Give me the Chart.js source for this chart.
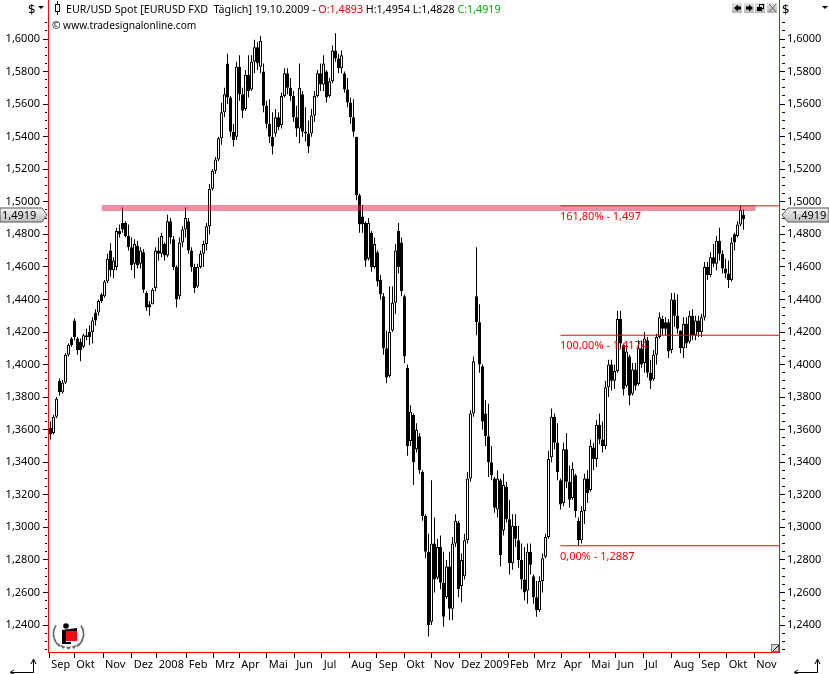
<!DOCTYPE html>
<html><head><meta charset="utf-8">
<script src="https://cdn.jsdelivr.net/npm/chart.js@4/dist/chart.umd.js"></script>
<style>html,body{margin:0;padding:0;background:#fff}canvas{display:block}</style>
</head><body><canvas id="c" width="829" height="674"></canvas>
<script>
const monthLabels = ['Sep','Okt','Nov','Dez','2008','Feb','Mrz','Apr','Mai','Jun','Jul','Aug','Sep','Okt','Nov','Dez','2009','Feb','Mrz','Apr','Mai','Jun','Jul','Aug','Sep','Okt','Nov'];
const monthStarts = [1,21,44,67,87,111,132,153,175,197,219,241,263,285,307,329,347,368,389,411,433,454,476,499,521,543,565];

const lows = [
13540,13570,13670,13810,13820,13880,14050,14110,14150,14060,
14020,14100,14150,14120,14130,14240,14300,14380,14410,14500,
14540,14530,14580,14780,14810,14780,14700,14580,14530,14590,
14590,14440,14330,14300,14370,14450,14640,14660,14640,14660,
14740,14580,14350,14400,14720,14780,14680,14570,14440,14470,
14590,14600,14700,14800,15070,15170,15250,15350,15520,15600,
15400,15340,15380,15620,15515,15560,15640,15680,15790,15810,
15790,15550,15450,15360,15290,15400,15440,15450,15640,15660,
15620,15490,15400,15360,15400,15370,15300,15400,15490,15640,
15680,15680,15610,15640,15730,15860,15790,15790,15670,15580,
15480,15400,15010,14810,14810,14600,14640,14570,14590,14480,
14400,14060,13885,13920,14200,14310,14560,14420,14010,13440,
13500,13260,13460,13330,13040,12810,12330,12400,12600,12680,
12620,12390,12560,12430,12430,12880,12570,12540,12680,12900,
13280,13680,14180,13950,13600,13500,13310,13290,13090,13060,
12760,12950,13030,12710,12740,12880,12750,12620,12550,12530,
12710,12530,12450,12480,12600,12810,12930,13400,13480,13290,
13110,13130,13240,13120,13170,13060,12887,12900,13020,13150,
13220,13350,13370,13510,13460,13480,13800,13840,13850,13950,
14100,13810,13860,13750,13810,13840,13870,13980,13950,13920,
13850,13900,14000,14160,14180,14180,14040,14070,14230,14190,
14070,14040,14100,14130,14150,14150,14170,14170,14270,14520,
14540,14600,14580,14640,14560,14530,14470,14510,14700,14780,
14850,14828];
const highs = [
13650,13690,13800,13915,13905,14070,14130,14170,14285,14170,
14160,14190,14220,14240,14290,14340,14400,14440,14520,14680,
14745,14660,14840,14860,14965,14880,14860,14780,14770,14760,
14720,14710,14450,14390,14470,14720,14780,14810,14750,14920,
14900,14790,14610,14780,14850,14965,14900,14720,14620,14620,
14700,14760,14870,15110,15200,15275,15400,15610,15700,15910,
15650,15480,15860,15900,15700,15810,15900,15900,15995,15980,
16020,15850,15620,15630,15550,15570,15550,15670,15820,15820,
15760,15680,15590,15850,15680,15580,15500,15570,15680,15810,
15850,15900,15810,15760,15960,16035,15910,15930,15800,15760,
15640,15630,15400,15050,14980,14880,14900,14820,14780,14700,
14550,14440,14210,14480,14480,14740,14870,14780,14430,14000,
13750,13700,13640,13580,13350,13080,12960,13290,13060,12930,
12950,12850,12800,12850,12940,13080,13040,12840,12960,13340,
13720,14050,14720,14370,14000,13780,13760,13500,13310,13350,
13300,13330,13280,13170,13080,13080,13010,12900,12880,12900,
12900,12710,12670,12700,12840,12960,13470,13730,13700,13640,
13300,13520,13580,13380,13400,13330,13060,13130,13330,13350,
13540,13520,13660,13700,13650,13900,14030,14030,14000,14330,
14330,14130,14120,14060,14010,14010,14150,14150,14200,14170,
14030,14090,14190,14320,14300,14290,14280,14440,14440,14430,
14210,14290,14290,14330,14340,14300,14300,14310,14630,14630,
14690,14740,14790,14840,14700,14650,14640,14780,14810,14880,
14975,14954];
const opens = [
13610,13580,13680,13900,13830,13890,14060,14120,14270,14160,
14090,14110,14180,14170,14200,14270,14320,14390,14420,14510,
14700,14580,14600,14820,14830,14870,14790,14720,14620,14730,
14620,14690,14440,14350,14370,14470,14700,14680,14740,14670,
14880,14770,14600,14420,14750,14830,14880,14700,14600,14480,
14600,14680,14740,14850,15080,15190,15260,15390,15550,15850,
15640,15430,15400,15830,15660,15570,15780,15690,15860,15950,
15830,15800,15590,15480,15400,15420,15520,15470,15650,15790,
15700,15650,15520,15450,15660,15430,15420,15420,15530,15650,
15790,15720,15800,15650,15740,15930,15880,15820,15790,15690,
15610,15520,15400,15040,14860,14870,14650,14810,14600,14690,
14520,14420,14100,13930,14210,14380,14820,14750,14420,13980,
13530,13690,13480,13560,13340,13070,12850,12420,12900,12690,
12880,12660,12570,12760,12500,12900,13030,12640,12700,12920,
13300,13700,14420,14260,13990,13700,13560,13400,13300,13110,
13290,12980,13250,13050,12780,13010,12920,12800,12680,12610,
12850,12700,12570,12490,12670,12820,12940,13430,13680,13520,
13290,13150,13480,13280,13180,13320,13040,12920,13100,13300,
13230,13490,13420,13630,13540,13500,13860,14000,13900,13960,
14280,14120,13870,14050,13820,13970,13880,14100,14010,14150,
13950,13910,14060,14170,14280,14220,14260,14090,14400,14300,
14210,14100,14250,14140,14300,14180,14270,14200,14290,14600,
14550,14660,14620,14760,14680,14590,14560,14520,14750,14790,
14860,14893];
const closes = [
13570,13680,13790,13830,13890,14060,14120,14160,14170,14090,
14140,14180,14170,14200,14270,14320,14390,14430,14510,14650,
14580,14640,14820,14800,14870,14790,14720,14610,14740,14610,
14700,14460,14350,14370,14460,14700,14680,14790,14670,14880,
14780,14600,14400,14750,14830,14900,14700,14600,14470,14600,
14680,14740,14850,15080,15190,15260,15390,15550,15660,15640,
15430,15380,15830,15660,15560,15780,15680,15860,15950,15850,
15990,15590,15480,15400,15340,15520,15460,15650,15790,15700,
15650,15520,15450,15700,15430,15420,15340,15530,15650,15790,
15720,15850,15640,15740,15930,15880,15820,15900,15690,15610,
15520,15430,15040,14860,14910,14640,14870,14600,14740,14510,
14430,14100,13920,14200,14380,14700,14600,14450,14050,13500,
13710,13400,13600,13350,13070,12850,12400,12900,12680,12880,
12660,12450,12760,12500,12900,13040,12620,12800,12920,13300,
13700,14020,14260,14000,13650,13560,13400,13320,13120,13300,
12830,13260,13050,12780,13010,12930,12800,12680,12600,12850,
12770,12570,12490,12670,12810,12940,13420,13680,13520,13340,
13140,13480,13280,13170,13360,13100,12920,13100,13300,13210,
13500,13420,13630,13540,13500,13860,14000,13900,13960,14280,
14130,13850,14080,13810,13970,13870,14100,14000,14160,13950,
13900,14060,14170,14290,14220,14260,14080,14400,14300,14220,
14100,14250,14130,14300,14180,14270,14200,14290,14600,14550,
14660,14620,14760,14680,14590,14560,14520,14750,14800,14860,
14950,14919];

const fibPercents = ['161,80%','100,00%','0,00%'];
const fibTexts = ['1,497','1,4174','1,2887'];
const fibLevels = [1.4975,1.4180,1.2887];
const supportLevel = 1.4962;
const lastClose = '1,4919';
const yMajorTicks = [1.24,1.26,1.28,1.30,1.32,1.34,1.36,1.38,1.40,1.42,1.44,1.46,1.48,1.50,1.52,1.54,1.56,1.58,1.60];

const FONT = '10.7px "Noto Sans"';
const sess = i => 2 + 2.4 * i;
const px = v => v / 10000;
const yTicks = [];
for (let k = 245; k <= 322; k++) yTicks.push(k / 200);
const isMajor = v => yMajorTicks.some(m => Math.abs(m - v) < 1e-6);
const fmtY = v => isMajor(v) ? v.toFixed(4).replace('.', ',') : '';
const noPad = s => { s.paddingLeft = s.paddingRight = s.paddingTop = s.paddingBottom = 0; };

const wickData = lows.map((l, i) => ({x: sess(i), y: [px(l), px(highs[i])]}));
const bodyData = opens.map((o, i) => ({x: sess(i), y: [px(o), px(closes[i])]}));
// Short up-candles merge into solid black in the dense original; only long ones stay visibly hollow.
const bodyFill = opens.map((o, i) => closes[i] - o >= 60 ? '#ffffff' : '#000000');

const overlay = {
  id: 'overlay',
  afterDraw(chart) {
    const c = chart.ctx, y = chart.scales.y;
    c.save();
    c.font = FONT; c.textBaseline = 'alphabetic'; c.textAlign = 'left';
    // header legend
    c.strokeStyle = '#000'; c.lineWidth = 1;
    c.strokeRect(55.5, 4.5, 4, 7);
    c.beginPath(); c.moveTo(57.5, 1); c.lineTo(57.5, 4); c.moveTo(57.5, 12); c.lineTo(57.5, 15); c.stroke();
    let tx = 66;
    [['EUR/USD Spot [EURUSD FXD  Täglich] 19.10.2009 - ', '#000'], ['O:1,4893', '#e00000'], [' H:1,4954 L:1,4828 ', '#000'], ['C:1,4919', '#00b000']].forEach(([t, col]) => {
      c.fillStyle = col; c.fillText(t, tx, 13); tx += c.measureText(t).width;
    });
    c.fillStyle = '#000';
    c.font = '10.2px "Noto Sans"';
    c.fillText('© www.tradesignalonline.com', 52, 29);
    // currency selectors
    c.font = '13px "Noto Sans"';
    c.fillText('$', 28, 14); c.fillText('$', 782, 14);
    c.font = FONT;
    [[38, 44], [822, 828]].forEach(([a, b]) => {
      c.beginPath(); c.moveTo(a, 6); c.lineTo(b, 6); c.lineTo((a + b) / 2, 9); c.closePath(); c.fill();
    });
    // window buttons
    [732, 744, 755, 767].forEach((bx, i) => {
      const g = c.createLinearGradient(0, 3, 0, 13);
      g.addColorStop(0, '#e4e4e4'); g.addColorStop(1, '#b4b4b4');
      c.fillStyle = g; c.fillRect(bx, 3, 10, 10);
      c.fillStyle = '#000'; c.strokeStyle = i === 3 ? '#666' : '#000';
      c.beginPath();
      if (i === 0) { c.moveTo(734, 8); c.lineTo(738, 4.5); c.lineTo(738, 6.5); c.lineTo(741, 6.5); c.lineTo(741, 9.5); c.lineTo(738, 9.5); c.lineTo(738, 11.5); c.closePath(); c.fill(); }
      if (i === 1) { c.moveTo(753, 8); c.lineTo(749, 4.5); c.lineTo(749, 6.5); c.lineTo(746, 6.5); c.lineTo(746, 9.5); c.lineTo(749, 9.5); c.lineTo(749, 11.5); c.closePath(); c.fill(); }
      if (i === 2) { c.strokeRect(759.5, 4.5, 4, 4); c.fillRect(757, 7, 5, 4); }
      if (i === 3) { c.moveTo(769, 4); c.lineTo(776, 12); c.moveTo(776, 4); c.lineTo(769, 12); c.stroke(); }
    });
    // fibonacci labels
    c.fillStyle = '#ff0000';
    c.font = '11px "Noto Sans"';
    fibLevels.forEach((lv, i) => {
      c.fillText(fibPercents[i] + ' - ' + fibTexts[i], 560, y.getPixelForValue(lv) + 14);
    });
    // last price badges
    const by = 215;
    const badge = (pts, tx2) => {
      const g = c.createLinearGradient(0, by - 7, 0, by + 7);
      g.addColorStop(0, '#f4f4f4'); g.addColorStop(1, '#bdbdbd');
      c.beginPath(); pts.forEach((p, i) => i ? c.lineTo(p[0], p[1]) : c.moveTo(p[0], p[1])); c.closePath();
      c.fillStyle = g; c.fill(); c.strokeStyle = '#555'; c.stroke();
      c.fillStyle = '#000'; c.fillText(lastClose, tx2, by + 4);
    };
    badge([[0, by - 7], [42, by - 7], [47, by], [42, by + 7], [0, by + 7]], 2);
    badge([[829, by - 7], [788, by - 7], [782, by], [788, by + 7], [829, by + 7]], 792);
    // corner arrows
    c.strokeStyle = '#000'; c.fillStyle = '#000';
    [[10, 33], [794, 817]].forEach(([a, b]) => {
      c.beginPath(); c.moveTo(a, 672.5); c.lineTo(b + .5, 672.5); c.lineTo(b + .5, 660); c.stroke();
      c.beginPath(); c.moveTo(b - 2, 664); c.lineTo(b + .5, 659); c.lineTo(b + 3, 664); c.stroke();
      c.beginPath(); c.moveTo(a + 4, 670); c.lineTo(a, 672.5); c.lineTo(a + 4, 674); c.stroke();
    });
    // resize grip
    c.fillStyle = '#d8d8d8'; c.fillRect(772, 645, 7, 7);
    c.strokeStyle = '#777'; c.strokeRect(771.5, 644.5, 7, 7);
    c.strokeStyle = '#000'; c.beginPath(); c.moveTo(773, 651); c.lineTo(779, 645); c.stroke();
    // logo
    c.strokeStyle = '#666'; c.lineWidth = 1.6;
    [-1, 1].forEach(s => {
      for (let a = 0; a < 7; a++) {
        const t = (25 + a * 21) * Math.PI / 180;
        const lx = 68.5 + s * 15.5 * Math.cos(t - .75), ly = 634 + 15 * Math.sin(t - .75);
        c.beginPath(); c.moveTo(lx, ly); c.lineTo(lx + s * 2.6 * Math.cos(t + .9), ly + 2.6 * Math.sin(t + .9) - 2); c.stroke();
      }
      c.beginPath(); c.arc(68.5, 634, 15, s > 0 ? -.6 : Math.PI - 1.0, s > 0 ? 1.0 : Math.PI + .6, false); c.stroke();
    });
    c.fillStyle = '#000';
    c.beginPath(); c.arc(66, 626, 2.8, 0, 7); c.fill();
    c.beginPath(); c.moveTo(62, 630); c.lineTo(77, 628); c.lineTo(77, 631); c.lineTo(66, 632); c.lineTo(66, 642); c.lineTo(71, 642); c.lineTo(71, 644); c.lineTo(62, 644); c.closePath(); c.fill();
    c.fillStyle = '#e81010'; c.fillRect(66, 631, 11, 10);
    c.restore();
  }
};

new Chart(document.getElementById('c'), {
  data: {
    datasets: [
      {type: 'line', label: 'Unterstützung', data: [{x: 43, y: supportLevel}, {x: 566, y: supportLevel}], borderColor: 'rgba(225,30,70,.5)', borderWidth: 6, pointRadius: 0, order: 0, xAxisID: 'x', yAxisID: 'y'},
      ...fibLevels.map(lv => ({type: 'line', label: 'Fib', data: [{x: 410, y: lv}, {x: 584.8, y: lv}], borderColor: '#ff0000', borderWidth: 1, pointRadius: 0, order: 1})),
      {type: 'bar', label: 'Körper', data: bodyData, backgroundColor: bodyFill, borderColor: '#000', borderWidth: 1, borderSkipped: false, barThickness: 3, grouped: false, inflateAmount: 0, order: 2},
      {type: 'bar', label: 'Docht', data: wickData, backgroundColor: '#000', borderWidth: 0, barThickness: 1, grouped: false, inflateAmount: 0, order: 3}
    ]
  },
  options: {
    responsive: false, animation: false, devicePixelRatio: 1,
    layout: {padding: 0},
    plugins: {legend: {display: false}, tooltip: {enabled: false}, title: {display: false}},
    scales: {
      x: {
        type: 'linear', position: 'bottom', min: 0, max: 584.8, offset: false,
        afterBuildTicks: s => { s.ticks = monthStarts.map(value => ({value})); },
        afterFit: s => { s.height = 22; noPad(s); },
        grid: {offset: false, drawOnChartArea: false, tickColor: '#000', tickLength: 6, tickBorderDash: [5, 1]},
        border: {color: '#ff0000', width: 1},
        ticks: {autoSkip: false, maxRotation: 0, minRotation: 0, align: 'start', labelOffset: 2, padding: 0, color: '#000', font: {family: 'Noto Sans', size: 11},
          callback: (v, i) => monthLabels[i]}
      },
      y: {
        type: 'linear', position: 'left', min: 1.22342, max: 1.62396,
        afterBuildTicks: s => { s.ticks = yTicks.map(value => ({value})); },
        afterFit: s => { s.width = 48; noPad(s); },
        grid: {drawOnChartArea: false, tickColor: '#000', tickLength: 5,
          tickBorderDash: ctx => isMajor(ctx.tick.value) ? [5, 0] : [0, 2, 2, 1]},
        border: {color: '#ff0000', width: 1},
        ticks: {autoSkip: false, padding: 3, color: '#000', font: {family: 'Noto Sans', size: 11}, callback: fmtY}
      },
      y2: {
        type: 'linear', position: 'right', min: 1.22342, max: 1.62396,
        afterBuildTicks: s => { s.ticks = yTicks.map(value => ({value})); },
        afterFit: s => { s.width = 50; noPad(s); },
        grid: {drawOnChartArea: false, tickColor: '#000', tickLength: 6,
          tickBorderDash: ctx => isMajor(ctx.tick.value) ? [5, 1] : [0, 2, 3, 1]},
        border: {color: '#ff0000', width: 1},
        ticks: {autoSkip: false, padding: 2, color: '#000', font: {family: 'Noto Sans', size: 11}, callback: fmtY}
      }
    }
  },
  plugins: [overlay]
});
</script></body></html>
